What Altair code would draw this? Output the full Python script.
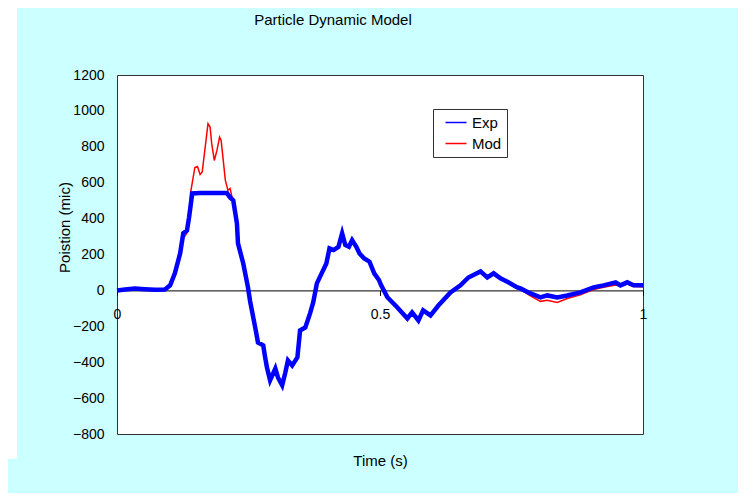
import altair as alt
import pandas as pd

# Exp series (time s, position mic)
exp_t = [0, 0.015, 0.034, 0.053, 0.072, 0.091, 0.101, 0.110, 0.120, 0.126, 0.133, 0.137, 0.143,
         0.158, 0.177, 0.196, 0.209, 0.215, 0.221, 0.228, 0.230, 0.240, 0.249, 0.253, 0.259, 0.263,
         0.268, 0.278, 0.281, 0.285, 0.291, 0.301, 0.306, 0.314, 0.320, 0.325, 0.333, 0.343, 0.348,
         0.358, 0.367, 0.373, 0.380, 0.389, 0.398, 0.404, 0.412, 0.421, 0.428, 0.434, 0.441, 0.447,
         0.455, 0.461, 0.470, 0.480, 0.489, 0.498, 0.502, 0.514, 0.533, 0.552, 0.561, 0.573, 0.582,
         0.596, 0.611, 0.634, 0.653, 0.668, 0.691, 0.704, 0.716, 0.729, 0.744, 0.761, 0.767, 0.786,
         0.805, 0.818, 0.837, 0.856, 0.881, 0.906, 0.925, 0.948, 0.957, 0.970, 0.982, 1.0]
exp_v = [0, 5, 10, 6, 3, 5, 28, 95, 206, 318, 334, 407, 540,
         542, 542, 542, 542, 518, 501, 373, 262, 150, 17, -60, -150, -210,
         -290, -306, -362, -429, -501, -435, -485, -529, -457, -390, -418, -373, -223,
         -206, -128, -67, 39, 95, 150, 234, 225, 243, 318, 253, 243, 280,
         243, 206, 178, 160, 95, 58, 30, -38, -95, -156, -122, -167, -111,
         -139, -84, -11, 28, 72, 106, 72, 95, 67, 45, 17, 11, -17,
         -39, -28, -39, -28, -11, 17, 28, 45, 28, 45, 28, 28]

# Mod series
mod_t = [0, 0.015, 0.034, 0.053, 0.072, 0.091, 0.101, 0.110, 0.120, 0.126, 0.133, 0.137,
         0.140, 0.148, 0.153, 0.158, 0.162, 0.173, 0.177, 0.180, 0.185, 0.190, 0.195, 0.198,
         0.202, 0.206, 0.211, 0.215, 0.218, 0.223, 0.228, 0.230,
         0.240, 0.249, 0.253, 0.259, 0.263, 0.268, 0.278, 0.281, 0.285, 0.291, 0.301, 0.306,
         0.314, 0.320, 0.325, 0.333, 0.343, 0.348, 0.358, 0.367, 0.373, 0.380, 0.389, 0.398,
         0.404, 0.412, 0.421, 0.428, 0.434, 0.441, 0.447, 0.455, 0.461, 0.470, 0.480, 0.489,
         0.498, 0.502, 0.514, 0.533, 0.552, 0.561, 0.573, 0.582, 0.596, 0.611, 0.634, 0.653,
         0.668, 0.691, 0.704, 0.716, 0.729, 0.744, 0.761, 0.767, 0.786, 0.805, 0.818, 0.837,
         0.856, 0.881, 0.906, 0.925, 0.948, 0.957, 0.970, 0.982, 1.0]
mod_v = [0, 3, 6, 4, 2, 4, 22, 85, 195, 290, 320, 390,
         546, 685, 690, 646, 660, 929, 910, 819, 724, 780, 854, 836,
         724, 613, 557, 568, 529, 485, 390, 280,
         160, 25, -55, -145, -215, -295, -310, -365, -432, -505, -440, -490,
         -532, -460, -395, -420, -378, -228, -210, -133, -72, 35, 90, 145,
         228, 222, 240, 315, 250, 240, 276, 240, 203, 175, 155, 90,
         55, 25, -42, -100, -162, -128, -175, -118, -145, -90, -16, 24,
         68, 102, 70, 92, 64, 40, 12, 5, -30, -61, -55, -67,
         -45, -25, 5, 18, 30, 25, 35, 22, 20]

series_names = ["Exp", "Mod"]
series_colors = ["#0000FF", "#FF0000"]
x_ticks = [0, 0.5, 1]
y_ticks = [-800, -600, -400, -200, 0, 200, 400, 600, 800, 1000, 1200]

exp_df = pd.DataFrame({"t": exp_t, "v": exp_v, "series": "Exp"})
mod_df = pd.DataFrame({"t": mod_t, "v": mod_v, "series": "Mod"})

FONT = "Liberation Sans"
LINE_SYM = "M-1.4,0H1.4"

x_enc = alt.X("t:Q",
              scale=alt.Scale(domain=[0, 1], nice=False, zero=False),
              axis=alt.Axis(values=x_ticks, format="~g", title="Time (s)", offset=-143.6,
                            grid=False, domainColor="black", domainWidth=1, tickColor="black",
                            tickSize=5, labelPadding=12, labelFlush=False, labelFontSize=14,
                            labelColor="black", titleFontSize=15, titleFontWeight="normal",
                            titleColor="black", titleX=263, titleY=170, titleBaseline="middle"))
y_enc = alt.Y("v:Q",
              scale=alt.Scale(domain=[-800, 1200], nice=False),
              axis=alt.Axis(values=y_ticks, format="d", title="Poistion (mic)", grid=False,
                            domain=False, ticks=False, tickSize=0, labelPadding=13,
                            labelFontSize=14, labelColor="black", titleFontSize=15,
                            titleFontWeight="normal", titleColor="black", titleX=-53,
                            titleY=152, titleAngle=270, titleAlign="center",
                            titleBaseline="middle"))
color_enc = alt.Color("series:N",
                      scale=alt.Scale(domain=series_names, range=series_colors),
                      legend=alt.Legend(
                          title=None, orient="none", legendX=316, legendY=34,
                          fillColor="white", strokeColor="#333333", padding=5,
                          symbolOffset=9.5, symbolType=LINE_SYM, symbolSize=225,
                          symbolStrokeWidth=1.5, labelFontSize=15, labelOffset=7.5,
                          rowPadding=4, labelColor="black", labelFont=FONT))

strip = alt.Chart(alt.Data(values=[{"a": 1}])).mark_rect(color="white").encode(
    x=alt.value(-109), x2=alt.value(-100), y=alt.value(-67), y2=alt.value(384))

mod_line = alt.Chart(mod_df).mark_line(strokeWidth=1.5).encode(x=x_enc, y=y_enc, color=color_enc)
exp_line = alt.Chart(exp_df).mark_line(strokeWidth=4.5).encode(x=x_enc, y=y_enc, color=color_enc)

chart = alt.layer(strip, mod_line, exp_line).properties(
    width=526, height=359,
    title=alt.TitleParams("Particle Dynamic Model", anchor="middle", frame="group", dx=-47,
                          offset=0, dy=32, baseline="alphabetic", fontSize=15,
                          fontWeight="normal", color="black", font=FONT),
    autosize=alt.AutoSizeParams(type="none"),
    padding={"left": 109, "top": 67, "right": 95, "bottom": 59},
    background="#CCFFFF",
).configure(font=FONT).configure_view(fill="white", stroke="#333333", strokeWidth=1)

chart.save("out.html", embed_options={"renderer": "svg", "actions": False})
